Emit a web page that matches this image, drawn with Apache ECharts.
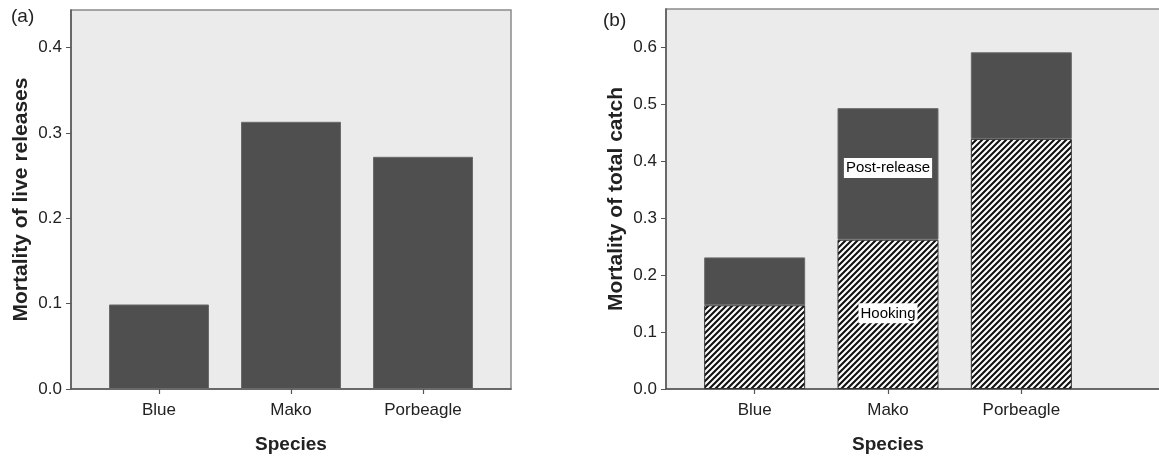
<!DOCTYPE html>
<html>
<head>
<meta charset="utf-8">
<script src="https://cdn.jsdelivr.net/npm/echarts@6/dist/echarts.min.js"></script>
<style>
html, body { margin: 0; padding: 0; background: #fff; }
#chart { width: 1159px; height: 456px; }
</style>
</head>
<body>
<div id="chart"></div>
<script>
var species = ['Blue', 'Mako', 'Porbeagle'];
// (a) mortality of live releases
var liveRelease = [0.099, 0.313, 0.272];
// (b) mortality of total catch, stacked segments
var hooking = [0.147, 0.262, 0.439];
var postRelease = [0.084, 0.231, 0.152];
var ticksA = [0, 0.1, 0.2, 0.3, 0.4];
var ticksB = [0, 0.1, 0.2, 0.3, 0.4, 0.5, 0.6];

var font = '"Liberation Sans", Arial, sans-serif';
var dark = '#4f4f4f';
var bg = '#ebebeb';

// hatch tile, "/" stripes
var tile = document.createElement('canvas');
tile.width = 6; tile.height = 6;
var c = tile.getContext('2d');
c.fillStyle = '#fff';
c.fillRect(0, 0, 6, 6);
c.strokeStyle = '#111';
c.lineWidth = 2.1;
c.beginPath();
c.moveTo(-3, 3); c.lineTo(3, -3);
c.moveTo(0, 6); c.lineTo(6, 0);
c.moveTo(3, 9); c.lineTo(9, 3);
c.stroke();
var hatch = { image: tile, repeat: 'repeat' };

var myChart = echarts.init(document.getElementById('chart'));

function yAxisOf(gi, max, ticks, name) {
    return {
        gridIndex: gi, type: 'value', min: 0, max: max,
        name: name, nameLocation: 'middle', nameGap: 39,
        nameTextStyle: { fontFamily: font, fontSize: 21, fontWeight: 'bold', color: '#222' },
        axisLine: { show: true, lineStyle: { color: '#555', width: 1.5 } },
        axisTick: { show: true, length: 5, customValues: ticks, lineStyle: { color: '#555' } },
        axisLabel: { customValues: ticks, margin: 9, fontFamily: font, fontSize: 17, color: '#222',
            formatter: function (v) { return v.toFixed(1); } },
        splitLine: { show: false }
    };
}
function hiddenY(gi, max) {
    return { gridIndex: gi, type: 'value', min: 0, max: max, show: false, splitLine: { show: false } };
}
function outerX(gi) {
    return {
        gridIndex: gi, type: 'value', min: 0, max: 1,
        axisLine: { show: true, lineStyle: { color: '#555', width: 1.5 } },
        axisTick: { show: false }, axisLabel: { show: false }, splitLine: { show: false }
    };
}
function innerX(gi) {
    return {
        gridIndex: gi, type: 'category', data: species,
        name: 'Species', nameLocation: 'middle', nameGap: 46,
        nameTextStyle: { fontFamily: font, fontSize: 19, fontWeight: 'bold', color: '#222' },
        axisLine: { show: false },
        axisTick: { show: true, alignWithLabel: true, length: 5, lineStyle: { color: '#555', width: 1.2 } },
        axisLabel: { margin: 13, fontFamily: font, fontSize: 17, color: '#222' },
        splitLine: { show: false }
    };
}

var segLabel = function (offsetY) {
    return {
        show: true, position: 'inside', offset: [0, offsetY],
        formatter: '{a}', fontFamily: font, fontSize: 15, color: '#000',
        backgroundColor: '#fff', padding: [3, 2, 2, 2]
    };
};

var option = {
    backgroundColor: '#fff',
    animation: false,
    graphic: [
        { type: 'text', left: 11, top: 7, style: { text: '(a)', font: '19px ' + font, fill: '#222' } },
        { type: 'text', left: 603, top: 11, style: { text: '(b)', font: '19px ' + font, fill: '#222' } }
    ],
    grid: [
        { left: 71, right: 648, top: 10, bottom: 67, outerBoundsMode: 'none', show: true, backgroundColor: bg, borderColor: '#8a8a8a', borderWidth: 1.5 },
        { left: 93, right: 670, top: 10, bottom: 67, outerBoundsMode: 'none' },
        { left: 666, right: -3, top: 9, bottom: 67, outerBoundsMode: 'none', show: true, backgroundColor: bg, borderColor: '#8a8a8a', borderWidth: 1.5 },
        { left: 688, right: 71, top: 9, bottom: 67, outerBoundsMode: 'none' }
    ],
    xAxis: [outerX(0), innerX(1), outerX(2), innerX(3)],
    yAxis: [
        yAxisOf(0, 0.444, ticksA, 'Mortality of live releases'),
        hiddenY(1, 0.444),
        yAxisOf(2, 0.667, ticksB, 'Mortality of total catch'),
        hiddenY(3, 0.667)
    ],
    series: [
        {
            name: 'Live releases', type: 'bar', xAxisIndex: 1, yAxisIndex: 1,
            data: liveRelease, barWidth: 100,
            itemStyle: { color: dark, borderColor: '#6a6a6a', borderWidth: 1 }
        },
        {
            name: 'Hooking', type: 'bar', stack: 'b', xAxisIndex: 3, yAxisIndex: 3,
            data: hooking.map(function (v, i) {
                return i === 1 ? { value: v, label: segLabel(-1) } : v;
            }),
            barWidth: 101,
            itemStyle: { color: hatch, borderColor: '#333', borderWidth: 1 }
        },
        {
            name: 'Post-release', type: 'bar', stack: 'b', xAxisIndex: 3, yAxisIndex: 3,
            data: postRelease.map(function (v, i) {
                return i === 1 ? { value: v, label: segLabel(-6) } : v;
            }),
            barWidth: 101,
            itemStyle: { color: dark, borderColor: '#6a6a6a', borderWidth: 1 }
        }
    ]
};
myChart.setOption(option);
</script>
</body>
</html>
